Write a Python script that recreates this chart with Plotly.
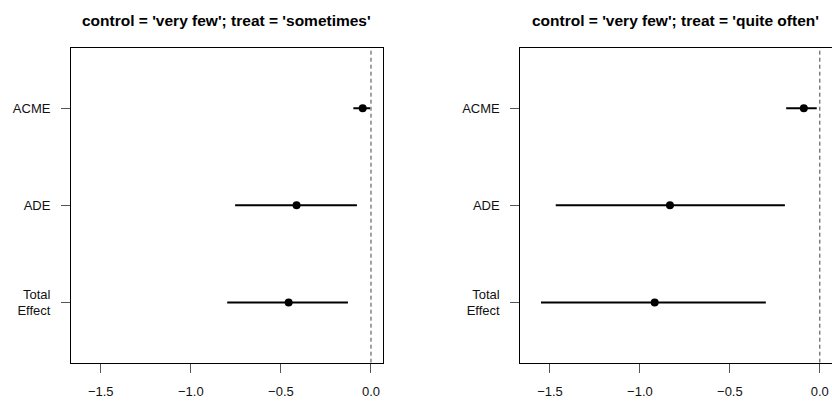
import plotly.graph_objects as go

# ---- data ----
effects = ["ACME", "ADE", "Total<br>Effect"]
effect_pos = [3, 2, 1]
titles = ["control = 'very few'; treat = 'sometimes'",
          "control = 'very few'; treat = 'quite often'"]

est_sometimes = [-0.046, -0.413, -0.457]
lo_sometimes = [-0.098, -0.754, -0.798]
hi_sometimes = [-0.005, -0.078, -0.128]

est_often = [-0.089, -0.833, -0.918]
lo_often = [-0.187, -1.468, -1.550]
hi_often = [-0.017, -0.194, -0.300]

x_ticks = [-1.5, -1.0, -0.5, 0.0]
x_range = [-1.665, 0.065]
y_range = [0.38, 3.62]

FONT = "Liberation Sans, Arial, Helvetica, sans-serif"
W, H = 832, 405

panels = [
    (est_sometimes, lo_sometimes, hi_sometimes),
    (est_often, lo_often, hi_often),
]
x_domains = [[71 / W, 382.7 / W], [520.3 / W, 831.5 / W]]
y_domain = [(H - 362.7) / H, (H - 48) / H]

fig = go.Figure()
for i, (est, lo, hi) in enumerate(panels):
    xa = "x" if i == 0 else "x2"
    ya = "y" if i == 0 else "y2"
    seg_x, seg_y = [], []
    for l, h, p in zip(lo, hi, effect_pos):
        seg_x += [l, h, None]
        seg_y += [p, p, None]
    fig.add_trace(go.Scatter(x=seg_x, y=seg_y, mode="lines",
                             line=dict(color="black", width=2),
                             xaxis=xa, yaxis=ya, showlegend=False,
                             hoverinfo="skip"))
    fig.add_trace(go.Scatter(x=est, y=effect_pos, mode="markers",
                             marker=dict(color="black", size=8),
                             xaxis=xa, yaxis=ya, showlegend=False))
    # dashed zero line
    fig.add_trace(go.Scatter(x=[0, 0], y=y_range, mode="lines",
                             line=dict(color="#444", width=1, dash="4px,3px"),
                             xaxis=xa, yaxis=ya, showlegend=False,
                             hoverinfo="skip"))

axis_common = dict(showgrid=False, zeroline=False, showline=True,
                   linecolor="black", linewidth=1, mirror=True,
                   ticks="outside", ticklen=9, tickcolor="#555",
                   tickfont=dict(family=FONT, size=13, color="#111"))

layout = dict(
    width=W, height=H,
    margin=dict(l=0, r=0, t=0, b=0),
    paper_bgcolor="white", plot_bgcolor="white",
    font=dict(family=FONT, size=13, color="black"),
    showlegend=False,
)
for i in range(2):
    sfx = "" if i == 0 else str(i + 1)
    layout["xaxis" + sfx] = dict(axis_common, domain=x_domains[i], range=x_range,
                                 tickvals=x_ticks, tickformat=".1f",
                                 anchor="y" + sfx, ticklabelstandoff=8)
    layout["yaxis" + sfx] = dict(axis_common, domain=y_domain, range=y_range,
                                 tickvals=effect_pos, ticktext=effects,
                                 anchor="x" + sfx, ticklabelstandoff=8)

fig.update_layout(**layout)

for i in range(2):
    fig.add_annotation(text="<b>" + titles[i] + "</b>", xref="paper", yref="paper",
                       x=(x_domains[i][0] + x_domains[i][1]) / 2, y=(H - 20) / H,
                       xanchor="center", yanchor="middle", showarrow=False,
                       font=dict(family=FONT, size=15.5, color="black"))

fig.write_html("out.html",
               config={"displayModeBar": False},
               post_script="document.body.style.margin='0';document.body.style.overflow='hidden';")
